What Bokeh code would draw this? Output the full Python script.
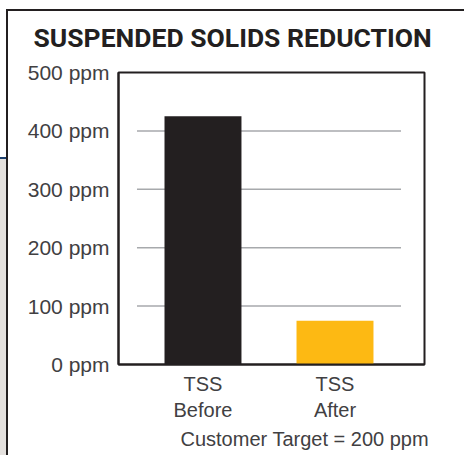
from bokeh.plotting import figure
from bokeh.models import Range1d, FixedTicker, Title
from bokeh.embed import file_html
from bokeh.resources import INLINE

# ---- data ----
categories = ["TSS\nBefore", "TSS\nAfter"]
tss_ppm = [425, 75]
bar_colors = ["#231f20", "#fdb913"]
y_ticks = [0, 100, 200, 300, 400, 500]
grid_values = [100, 200, 300, 400]
title_text = "SUSPENDED SOLIDS REDUCTION"
caption_text = "Customer Target = 200 ppm"

xs = [i + 1 for i in range(len(categories))]

p = figure(width=464, height=455, output_backend="svg", toolbar_location=None,
           x_range=Range1d(0.36, 2.678), y_range=Range1d(0, 500),
           min_border_left=118, min_border_right=40, min_border_top=72, min_border_bottom=91)
p.background_fill_color = "white"
p.border_fill_alpha = 0
p.outline_line_color = "#231f20"
p.outline_line_width = 2
p.xgrid.visible = False
p.ygrid.visible = False

# page-like surroundings: box border and the strip at the far left
p.styles = {
    "background": (
        "linear-gradient(#231f20,#231f20) 6px 9px / 2px 100% no-repeat, "
        "linear-gradient(#231f20,#231f20) 6px 9px / 100% 2px no-repeat, "
        "linear-gradient(#1c3f6e,#1c3f6e) 0px 157px / 6px 2px no-repeat, "
        "linear-gradient(#e4e1de,#e4e1de) 0px 159px / 6px 100% no-repeat, "
        "white"
    )
}

# grid lines (partial width)
p.segment(x0=[0.5] * len(grid_values), x1=[2.5] * len(grid_values),
          y0=grid_values, y1=grid_values, line_color="#a7a9ac", line_width=1.5)

p.vbar(x=xs, top=tss_ppm, width=0.583, fill_color=bar_colors, line_color=None)

label_color = "#414042"
font = "Liberation Sans"

p.yaxis.ticker = FixedTicker(ticks=y_ticks)
p.yaxis.major_label_overrides = {t: f"{t} ppm" for t in y_ticks}
p.yaxis.major_tick_line_color = None
p.yaxis.minor_tick_line_color = None
p.yaxis.axis_line_color = "#231f20"
p.yaxis.axis_line_width = 2
p.yaxis.major_label_text_font = font
p.yaxis.major_label_text_font_size = "21px"
p.yaxis.major_label_text_color = label_color
p.yaxis.major_label_standoff = 3

p.xaxis.ticker = FixedTicker(ticks=xs)
p.xaxis.major_label_overrides = {x: c for x, c in zip(xs, categories)}
p.xaxis.major_tick_line_color = None
p.xaxis.minor_tick_line_color = None
p.xaxis.axis_line_color = "#231f20"
p.xaxis.axis_line_width = 2
p.xaxis.major_label_text_font = font
p.xaxis.major_label_text_font_size = "20px"
p.xaxis.major_label_text_color = label_color
p.xaxis.major_label_standoff = 2
p.xaxis.major_label_text_line_height = 1.2

# title
p.title = Title(text=title_text, align="left", offset=-85, standoff=36,
                vertical_align="top",
                text_font="Roboto", text_font_style="bold", text_font_size="26.5px",
                text_color="#231f20")

# caption under the axis
p.add_layout(Title(text=caption_text, align="left", offset=62, standoff=4,
                   text_font=font, text_font_style="normal", text_font_size="20px",
                   text_color=label_color), "below")

open("out.html", "w").write(file_html(p, INLINE))
